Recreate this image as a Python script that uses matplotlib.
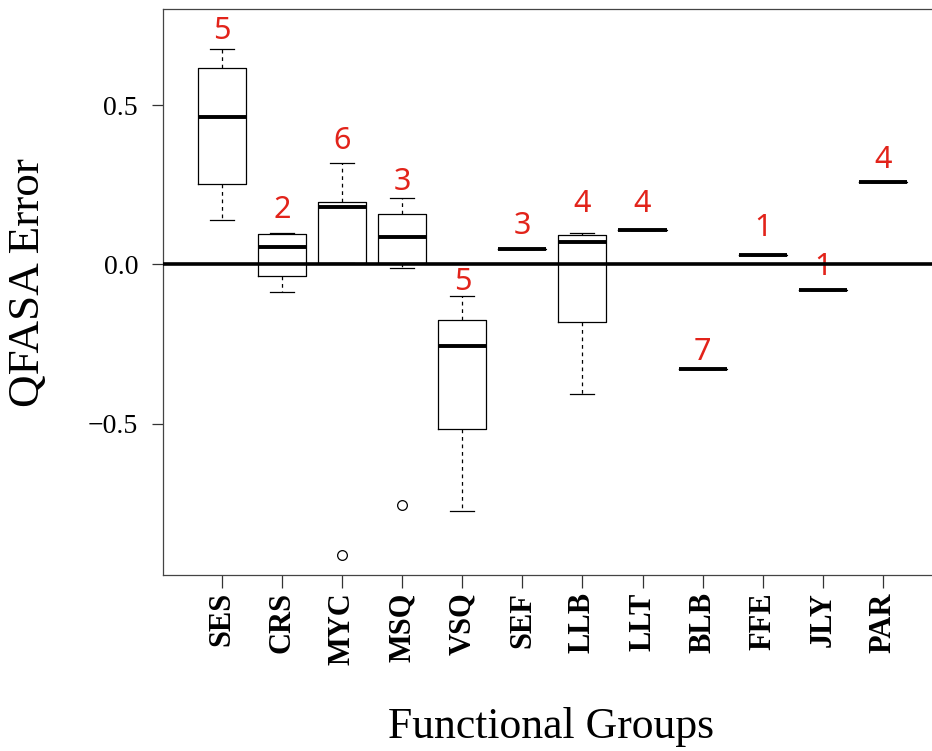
import matplotlib
matplotlib.use("Agg")
import matplotlib.pyplot as plt

# Box summaries per functional group (QFASA error)
groups = ['SES', 'CRS', 'MYC', 'MSQ', 'VSQ', 'SEF', 'LLB', 'LLT', 'BLB', 'FFE', 'JLY', 'PAR']
medians = [0.463, 0.054, 0.180, 0.087, -0.255, 0.049, 0.071, 0.109, -0.329, 0.029, -0.080, 0.258]
q1 = [0.253, -0.035, 0.006, 0.006, -0.518, 0.049, -0.180, 0.109, -0.329, 0.029, -0.080, 0.258]
q3 = [0.617, 0.095, 0.197, 0.158, -0.175, 0.049, 0.094, 0.109, -0.329, 0.029, -0.080, 0.258]
whis_lo = [0.139, -0.086, 0.006, -0.010, -0.775, 0.049, -0.408, 0.109, -0.329, 0.029, -0.080, 0.258]
whis_hi = [0.677, 0.100, 0.318, 0.208, -0.098, 0.049, 0.099, 0.109, -0.329, 0.029, -0.080, 0.258]
outliers = [[], [], [-0.913], [-0.756], [], [], [], [], [], [], [], []]

# sample sizes written above each group
n_labels = ['5', '2', '6', '3', '5', '3', '4', '4', '7', '1', '1', '4']
n_label_y = [0.734, 0.170, 0.388, 0.259, -0.055, 0.121, 0.190, 0.190, -0.275, 0.115, -0.009, 0.329]

stats = []
for i, g in enumerate(groups):
    stats.append(dict(label=g, med=medians[i], q1=q1[i], q3=q3[i],
                      whislo=whis_lo[i], whishi=whis_hi[i], fliers=outliers[i]))

fig = plt.figure(figsize=(9.32, 7.51), dpi=100)
ax = fig.add_axes([0.1749, 0.2344, 0.84, 0.7536])

pos = list(range(1, len(groups) + 1))
ax.bxp(stats, positions=pos, widths=0.8, showfliers=True,
       boxprops=dict(color='black', linewidth=0.9),
       medianprops=dict(color='black', linewidth=2.8, solid_capstyle='butt'),
       whiskerprops=dict(color='black', linewidth=0.9, linestyle=(0, (3, 3))),
       capprops=dict(color='black', linewidth=0.9),
       capwidths=0.4,
       flierprops=dict(marker='o', markerfacecolor='white', markeredgecolor='black',
                       markersize=7, markeredgewidth=0.9))

ax.axhline(0, color='black', linewidth=2.6, zorder=5)

for i in range(len(groups)):
    ax.text(pos[i], n_label_y[i], n_labels[i], color='#e2231a', fontsize=22,
            family='Noto Sans', ha='center', va='center')

ax.set_xlim(0.017, 0.017 + 782 / 60)
ax.set_ylim(-0.976, 0.803)

ax.set_yticks([-0.5, 0.0, 0.5])
ax.set_yticklabels(['\u22120.5', '0.0', '0.5'], family='Liberation Serif', fontsize=20)
ax.set_xticks(pos)
ax.set_xticklabels(groups, rotation=90, family='Liberation Serif',
                   fontweight='bold', fontsize=22)
ax.tick_params(axis='x', length=9.4, width=0.9, color='#333333', pad=3)
ax.tick_params(axis='y', length=8, width=0.9, color='#333333', pad=10)

for side in ['left', 'bottom', 'top', 'right']:
    ax.spines[side].set_color('#444444')
    ax.spines[side].set_linewidth(0.9)

ax.set_ylabel('QFASA Error', family='Liberation Serif', fontsize=32.5)
ax.yaxis.set_label_coords(-0.147, 0.516)
fig.text(551 / 932, 1 - 738 / 751, 'Functional Groups', family='Liberation Serif',
         fontsize=31.5, ha='center', va='baseline')

plt.savefig('out.png', dpi=100)
